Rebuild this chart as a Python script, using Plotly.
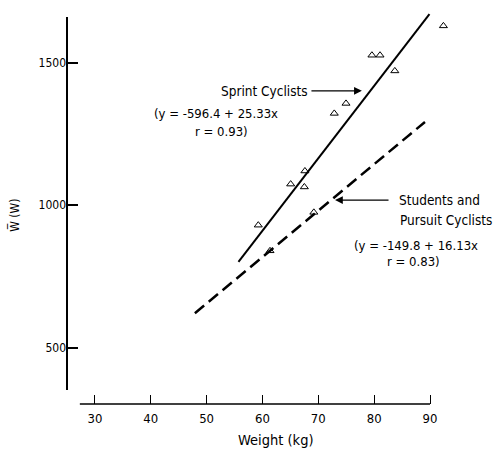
import plotly.graph_objects as go

# ---- data ----
weight_kg = [92.4, 79.6, 81.05, 83.7, 74.96, 72.86, 67.6, 65.05, 67.5, 69.2, 59.25, 61.35]
power_w = [1629, 1526, 1526, 1471, 1357, 1322, 1120, 1074, 1064, 975, 930, 840]

sprint_fit_x = [55.7, 89.9]
sprint_fit_y = [801, 1670]
pursuit_fit_x = [47.9, 89.1]
pursuit_fit_y = [621, 1292]

x_tick_vals = [30, 40, 50, 60, 70, 80, 90]
y_tick_vals = [500, 1000, 1500]

sprint_label = "Sprint Cyclists"
sprint_eq = "(y = -596.4 + 25.33x"
sprint_r = "r = 0.93)"
pursuit_label_1 = "Students and"
pursuit_label_2 = "Pursuit Cyclists"
pursuit_eq = "(y = -149.8 + 16.13x"
pursuit_r = "r = 0.83)"

FONT = "DejaVu Sans Condensed, Liberation Sans Narrow, Arial Narrow, sans-serif"

fig = go.Figure()

fig.add_trace(go.Scatter(
    x=sprint_fit_x, y=sprint_fit_y, mode="lines",
    line=dict(color="black", width=2), showlegend=False, hoverinfo="skip"))
fig.add_trace(go.Scatter(
    x=pursuit_fit_x, y=pursuit_fit_y, mode="lines",
    line=dict(color="black", width=2.5, dash="12px,6px"), showlegend=False, hoverinfo="skip"))
fig.add_trace(go.Scatter(
    x=weight_kg, y=power_w, mode="markers", cliponaxis=False,
    marker=dict(symbol="triangle-up-open", size=7, color="black", line=dict(width=1, color="black")),
    showlegend=False))

# detached axis lines
fig.add_shape(type="line", xref="x", yref="paper", x0=27.3, x1=90, y0=0, y1=0,
              line=dict(color="black", width=1.5))
fig.add_shape(type="line", xref="paper", yref="y", x0=0, x1=0, y0=352, y1=1660,
              line=dict(color="black", width=2))

eq_font = dict(family=FONT, size=13, color="black")
lab_font = dict(family=FONT, size=13.5, color="black")
annotations = [
    dict(x=68.5, y=1400, xref="x", yref="y", text=sprint_label, showarrow=False,
         xanchor="right", yanchor="middle", font=lab_font),
    dict(x=77.8, y=1401, xref="x", yref="y", ax=68.5, ay=1401, axref="x", ayref="y",
         text="", showarrow=True, arrowhead=2, arrowsize=1.2, arrowwidth=1.3, arrowcolor="black"),
    dict(x=40.15, y=1322, xref="x", yref="y", text=sprint_eq, showarrow=False,
         xanchor="left", yanchor="middle", font=eq_font),
    dict(x=47.55, y=1257, xref="x", yref="y", text=sprint_r, showarrow=False,
         xanchor="left", yanchor="middle", font=eq_font),
    dict(x=72.99, y=1018, xref="x", yref="y", ax=82.84, ay=1018, axref="x", ayref="y",
         text="", showarrow=True, arrowhead=2, arrowsize=1.2, arrowwidth=1.3, arrowcolor="black"),
    dict(x=84.09, y=1018, xref="x", yref="y", text=pursuit_label_1, showarrow=False,
         xanchor="left", yanchor="middle", font=lab_font),
    dict(x=84.2, y=948, xref="x", yref="y", text=pursuit_label_2, showarrow=False,
         xanchor="left", yanchor="middle", font=lab_font),
    dict(x=75.98, y=860, xref="x", yref="y", text=pursuit_eq, showarrow=False,
         xanchor="left", yanchor="middle", font=eq_font),
    dict(x=81.94, y=801, xref="x", yref="y", text=pursuit_r, showarrow=False,
         xanchor="left", yanchor="middle", font=eq_font),
    dict(x=62.42, y=-0.09, xref="x", yref="paper", text="Weight (kg)", showarrow=False,
         xanchor="center", yanchor="middle", font=dict(family=FONT, size=14.5, color="black")),
    dict(x=-0.136, y=0.474, xref="paper", yref="paper", text="W\u0305 (W)", showarrow=False,
         textangle=-90, xanchor="center", yanchor="middle", font=dict(family=FONT, size=12, color="black")),
]

fig.update_layout(
    width=497, height=449,
    margin=dict(l=67, r=47, t=5, b=45),
    paper_bgcolor="white", plot_bgcolor="white",
    showlegend=False,
    annotations=annotations,
    xaxis=dict(range=[25, 93.58], tickvals=x_tick_vals, ticks="inside", ticklen=9,
               tickwidth=1.3, tickcolor="black", showline=False, showgrid=False,
               zeroline=False, ticklabelstandoff=5,
               tickfont=dict(family=FONT, size=13, color="black")),
    yaxis=dict(range=[302.7, 1702.2], tickvals=y_tick_vals, ticks="inside", ticklen=11,
               tickwidth=1.5, tickcolor="black", showline=False, showgrid=False,
               zeroline=False, tickfont=dict(family=FONT, size=12, color="black")),
)

fig.write_html("out.html")
